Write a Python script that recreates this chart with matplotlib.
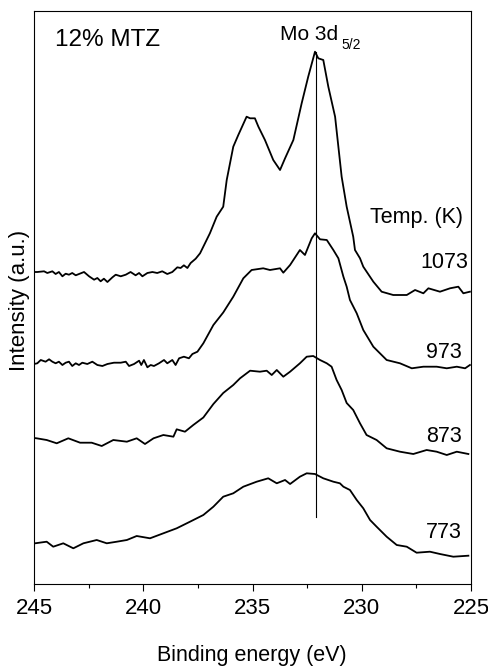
import matplotlib
matplotlib.use("Agg")
import matplotlib.pyplot as plt
from matplotlib.ticker import MultipleLocator

# XPS Mo 3d spectra of 12% MTZ at several temperatures (offset traces, a.u.)
temps = ["1073", "973", "873", "773"]

be_1073 = [245.0, 244.85, 244.54, 244.39, 244.16, 244.01, 243.86, 243.70, 243.55, 243.40,
           243.25, 243.09, 242.94, 242.71, 242.48, 242.25, 242.10, 241.95, 241.80, 241.64,
           241.41, 241.26, 241.03, 240.80, 240.58, 240.35, 240.19, 240.04, 239.81, 239.58,
           239.36, 239.13, 238.90, 238.67, 238.44, 238.29, 238.14, 237.98, 237.83, 237.60,
           237.40, 236.95, 236.64, 236.34, 236.18, 235.88, 235.65, 235.27, 235.11, 234.89,
           234.73, 234.43, 234.05, 233.74, 233.51, 233.13, 232.75, 232.45, 232.14, 231.99,
           231.76, 231.53, 231.22, 230.92, 230.69, 230.39, 230.31, 230.08, 229.93, 229.47,
           229.09, 228.56, 227.94, 227.56, 227.18, 226.95, 226.42, 225.96, 225.58, 225.35,
           225.05]
int_1073 = [312, 312, 312.7, 311, 312.7, 310, 312, 307.7, 310.3, 309.3,
            311, 308.7, 310, 312, 307.7, 304.3, 306, 302.7, 305.3, 302,
            306.7, 309.3, 307.7, 309.3, 312, 308.7, 311, 307.7, 311, 312,
            311, 312.7, 310, 312, 316.7, 316, 318.7, 316, 321, 325.3,
            330.7, 350.7, 367.3, 377.3, 404, 437.3, 449, 467.3, 465.7, 465.7,
            457.3, 444, 424, 414, 425.7, 444, 480.7, 507.3, 532.3, 525.7,
            524, 497.3, 467.3, 407.3, 377.3, 347.3, 334, 325.7, 317.3, 302.3,
            292.3, 289, 289, 294, 290.7, 295.7, 292.3, 295.7, 297.3, 290.7,
            292.3]

be_973 = [245.0, 244.85, 244.69, 244.47, 244.31, 244.16, 244.01, 243.86, 243.70, 243.55,
          243.40, 243.25, 243.09, 242.94, 242.79, 242.56, 242.33, 242.10, 241.87, 241.64,
          241.34, 241.03, 240.80, 240.65, 240.42, 240.19, 240.09, 239.97, 239.81, 239.66,
          239.51, 239.28, 239.05, 238.90, 238.67, 238.52, 238.36, 238.14, 237.91, 237.75,
          237.52, 237.25, 236.79, 236.34, 235.88, 235.42, 235.04, 234.51, 234.20, 233.74,
          233.59, 233.28, 232.83, 232.60, 232.29, 232.14, 231.91, 231.60, 231.30, 231.07,
          230.84, 230.69, 230.54, 230.23, 229.93, 229.47, 228.86, 228.25, 227.71, 227.18,
          226.57, 226.11, 225.65, 225.27, 225.05]
int_973 = [220, 220.7, 224, 222.3, 224.7, 222.3, 220.7, 222.3, 219, 221.3,
           222.3, 218, 220.7, 219, 221.3, 220, 222.3, 219, 218, 220,
           221.3, 221.3, 222.3, 218, 220, 223.3, 219, 224, 216.7, 219,
           218, 220.7, 224, 220.7, 224, 219, 225.7, 227.3, 225.7, 230,
           232.3, 240.7, 259, 271.5, 287.3, 305.7, 314, 315.7, 314, 315.7,
           311.3, 319, 334, 329, 345.7, 350.7, 344.7, 344, 334, 325.7,
           307.3, 297.3, 284, 270.7, 254, 237.3, 224, 220.7, 215.7, 217.3,
           217.3, 215.7, 217.3, 215.7, 219]

be_873 = [245.0, 244.88, 244.42, 243.96, 243.43, 242.89, 242.36, 241.90, 241.37, 240.75,
          240.30, 239.92, 239.53, 239.08, 238.62, 238.47, 238.09, 237.71, 237.25, 236.79,
          236.34, 235.88, 235.57, 235.11, 234.66, 234.35, 234.12, 233.89, 233.59, 233.28,
          232.83, 232.52, 232.22, 231.91, 231.60, 231.38, 231.15, 230.92, 230.69, 230.39,
          230.08, 229.78, 229.32, 228.86, 228.25, 227.64, 227.03, 226.57, 226.11, 225.65,
          225.12]
int_873 = [146, 145.7, 144, 140.7, 145.7, 141.3, 141.3, 138, 144, 142.3,
           145.7, 140, 145.7, 149, 147.3, 154.7, 152.3, 159, 166.5, 180,
           191, 199, 205.7, 213.3, 212.3, 213.3, 209, 214, 207.3, 212.3,
           220.7, 227.3, 228, 224, 220.7, 217.3, 204, 194, 181, 174,
           160.7, 149, 144, 135.7, 132.3, 130, 134, 132.3, 129, 132.3,
           130]

be_773 = [245.0, 244.95, 244.42, 244.12, 243.66, 243.20, 242.74, 242.13, 241.67, 241.21,
          240.75, 240.30, 239.69, 239.08, 238.47, 237.86, 237.25, 236.79, 236.34, 235.88,
          235.42, 234.81, 234.28, 233.89, 233.51, 233.28, 232.83, 232.52, 232.14, 231.76,
          231.30, 231.00, 230.84, 230.54, 230.23, 229.93, 229.62, 229.32, 228.86, 228.40,
          227.94, 227.49, 226.88, 226.42, 225.81, 225.12]
int_773 = [41, 40.7, 42.3, 37.3, 40.7, 35.7, 40.7, 44, 40.7, 42.3,
           44, 48, 45.7, 50.7, 55.7, 62.3, 69, 77.3, 87.3, 90.7,
           97.3, 102.3, 105.7, 100.7, 104, 100, 107.3, 110.7, 110, 105.7,
           102.3, 100.7, 97.3, 94, 84, 75.7, 64, 57.3, 47.3, 39,
           37.3, 31.3, 32.3, 30, 27.3, 28.3]

label_y = [262, 352, 437, 533]          # pixel rows of the temperature labels
label_be = [225.14, 225.41, 225.41, 225.41]
peak_be = 232.1
peak_line = (67, 532)


def main():
    plt.rcParams['font.family'] = ['Liberation Sans', 'DejaVu Sans']

    fig = plt.figure(figsize=(4.89, 6.66), dpi=100, facecolor='w')
    ax = fig.add_axes([34 / 489, 82 / 666, 437 / 489, 573 / 666])

    traces = [(be_1073, int_1073), (be_973, int_973), (be_873, int_873), (be_773, int_773)]
    for be, inten in traces:
        ax.plot(be, inten, color='k', lw=1.3, solid_joinstyle='round')

    # peak position marker
    ax.plot([peak_be, peak_be], peak_line, color='k', lw=0.8)

    ax.set_xlim(245, 225)
    ax.set_ylim(0, 573)
    ax.xaxis.set_major_locator(MultipleLocator(5))
    ax.xaxis.set_minor_locator(MultipleLocator(2.5))
    ax.tick_params(axis='x', which='major', direction='out', length=5, width=0.8,
                   labelsize=16, pad=5, top=False)
    ax.tick_params(axis='x', which='minor', direction='out', length=3, width=0.8, top=False)
    ax.set_yticks([])
    for s in ax.spines.values():
        s.set_linewidth(0.8)

    # Beautify
    ax.text(244.05, 544, '12% MTZ', fontsize=17.5, ha='left', va='center')
    ax.text(233.74, 549, 'Mo 3d', fontsize=15, ha='left', va='center')
    ax.text(230.95, 539, '5/2', fontsize=10, ha='left', va='center')
    ax.text(225.35, 584 - 217, 'Temp. (K)', fontsize=15.5, ha='right', va='center')
    for t, yl, xb in zip(temps, label_y, label_be):
        ax.text(xb, 584 - yl, t, fontsize=15.5, ha='right', va='center')

    fig.text(252 / 489, 1 - 655 / 666, 'Binding energy (eV)', fontsize=15.5,
             ha='center', va='center')
    fig.text(20 / 489, 1 - 300 / 666, 'Intensity (a.u.)', fontsize=16,
             ha='center', va='center', rotation=90)

    fig.savefig('out.png', dpi=100)


main()
